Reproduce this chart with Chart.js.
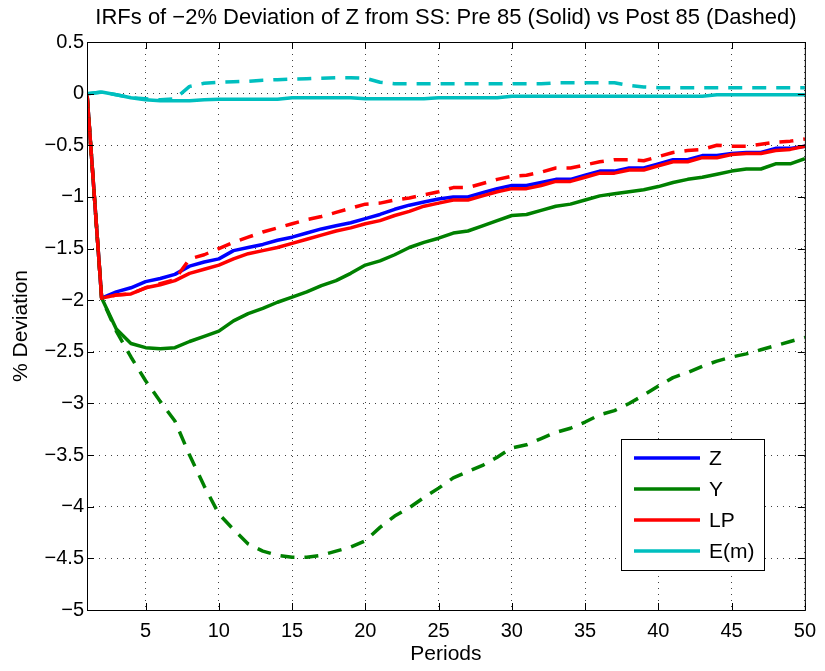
<!DOCTYPE html>
<html>
<head>
<meta charset="utf-8">
<script src="https://cdn.jsdelivr.net/npm/chart.js@4"></script>
<style>
  body { margin: 0; background: #fff; }
  canvas { display: block; }
</style>
</head>
<body>
<canvas id="irfChart" width="825" height="671"></canvas>
<script>
// IRF data (% deviation from steady state)

const periods = [1, 2, 3, 4, 5, 6, 7, 8, 9, 10, 11, 12, 13, 14, 15, 16, 17, 18, 19, 20,
  21, 22, 23, 24, 25, 26, 27, 28, 29, 30, 31, 32, 33, 34, 35, 36, 37, 38, 39, 40,
  41, 42, 43, 44, 45, 46, 47, 48, 49, 50];

const xTicks = [5, 10, 15, 20, 25, 30, 35, 40, 45, 50];
const yTicks = [0.5, 0, -0.5, -1, -1.5, -2, -2.5, -3, -3.5, -4, -4.5, -5];

// pre 85 (solid)
const zPre = [0, -1.98, -1.92, -1.88, -1.82, -1.79, -1.75, -1.67, -1.63, -1.60,
  -1.52, -1.49, -1.46, -1.42, -1.39, -1.35, -1.31, -1.28, -1.25, -1.21,
  -1.17, -1.12, -1.08, -1.05, -1.02, -1.00, -1.00, -0.96, -0.92, -0.89,
  -0.89, -0.86, -0.83, -0.83, -0.79, -0.75, -0.75, -0.72, -0.72, -0.68,
  -0.64, -0.64, -0.60, -0.60, -0.58, -0.57, -0.57, -0.53, -0.53, -0.51];
const yPre = [0, -1.98, -2.28, -2.42, -2.46, -2.47, -2.46, -2.40, -2.35, -2.30,
  -2.20, -2.13, -2.08, -2.02, -1.97, -1.92, -1.86, -1.81, -1.74, -1.66,
  -1.62, -1.56, -1.49, -1.44, -1.40, -1.35, -1.33, -1.28, -1.23, -1.18,
  -1.17, -1.13, -1.09, -1.07, -1.03, -0.99, -0.97, -0.95, -0.93, -0.90,
  -0.86, -0.83, -0.81, -0.78, -0.75, -0.73, -0.73, -0.68, -0.68, -0.63];
const lpPre = [0, -1.98, -1.95, -1.94, -1.88, -1.85, -1.81, -1.74, -1.70, -1.66,
  -1.60, -1.55, -1.52, -1.49, -1.45, -1.41, -1.37, -1.33, -1.30, -1.26,
  -1.23, -1.18, -1.14, -1.09, -1.06, -1.03, -1.03, -0.99, -0.95, -0.92,
  -0.92, -0.89, -0.85, -0.85, -0.81, -0.77, -0.77, -0.74, -0.74, -0.70,
  -0.66, -0.66, -0.62, -0.62, -0.59, -0.58, -0.58, -0.55, -0.54, -0.51];
const emPre = [0, 0.015, -0.01, -0.04, -0.06, -0.07, -0.07, -0.07, -0.06, -0.055,
  -0.055, -0.055, -0.055, -0.055, -0.04, -0.04, -0.04, -0.04, -0.04, -0.05,
  -0.05, -0.05, -0.05, -0.05, -0.04, -0.04, -0.04, -0.04, -0.04, -0.025,
  -0.025, -0.025, -0.025, -0.025, -0.025, -0.025, -0.025, -0.025, -0.025, -0.025,
  -0.025, -0.025, -0.025, -0.01, -0.01, -0.01, -0.01, -0.01, -0.01, -0.01];

// post 85 (dashed)
const yPost = [0, -1.98, -2.30, -2.55, -2.78, -2.98, -3.17, -3.50, -3.80, -4.07,
  -4.22, -4.36, -4.43, -4.47, -4.49, -4.49, -4.47, -4.43, -4.39, -4.33,
  -4.20, -4.09, -4.01, -3.91, -3.82, -3.72, -3.66, -3.60, -3.52, -3.43,
  -3.40, -3.34, -3.28, -3.24, -3.18, -3.11, -3.07, -3.00, -2.92, -2.83,
  -2.75, -2.70, -2.64, -2.59, -2.55, -2.52, -2.48, -2.44, -2.40, -2.36];
const lpPost = [0, -1.98, -1.95, -1.94, -1.88, -1.84, -1.80, -1.60, -1.56, -1.50,
  -1.44, -1.39, -1.34, -1.30, -1.26, -1.22, -1.19, -1.15, -1.11, -1.07,
  -1.06, -1.03, -1.01, -0.98, -0.95, -0.91, -0.91, -0.87, -0.83, -0.80,
  -0.79, -0.76, -0.72, -0.72, -0.69, -0.66, -0.64, -0.64, -0.65, -0.61,
  -0.57, -0.55, -0.54, -0.50, -0.51, -0.51, -0.49, -0.47, -0.46, -0.44];
const emPost = [0, 0.015, -0.01, -0.04, -0.05, -0.06, -0.05, 0.07, 0.10, 0.11,
  0.115, 0.12, 0.13, 0.135, 0.14, 0.145, 0.15, 0.155, 0.155, 0.15,
  0.11, 0.095, 0.095, 0.095, 0.095, 0.095, 0.095, 0.095, 0.095, 0.095,
  0.095, 0.095, 0.105, 0.105, 0.105, 0.105, 0.105, 0.08, 0.065, 0.058,
  0.058, 0.058, 0.058, 0.058, 0.058, 0.058, 0.058, 0.058, 0.058, 0.058];

const titleText = 'IRFs of \u22122% Deviation of Z from SS: Pre 85 (Solid) vs Post 85 (Dashed)';
const FONT = '"Liberation Sans", Arial, Helvetica, sans-serif';

const colors = { z: '#0000ff', y: '#008000', lp: '#ff0000', em: '#00bfbf' };

function series(label, values, color, dashed, order) {
  return {
    label: label,
    data: values.map((v, i) => ({ x: periods[i], y: v })),
    borderColor: color,
    backgroundColor: color,
    borderWidth: 3.5,
    borderDash: dashed ? [14, 10] : [],
    borderCapStyle: 'butt',
    borderJoinStyle: 'round',
    dashed: dashed,
    order: order
  };
}

// lower order = drawn on top
const datasets = [
  series('Z', zPre, colors.z, false, 7),
  series('Y', yPre, colors.y, false, 6),
  series('LP', lpPre, colors.lp, false, 5),
  series('E(m)', emPre, colors.em, false, 4),
  series('Y post', yPost, colors.y, true, 3),
  series('LP post', lpPost, colors.lp, true, 2),
  series('E(m) post', emPost, colors.em, true, 1)
];

// title, frame with inward ticks, and the boxed legend
const matlabLook = {
  id: 'matlabLook',
  afterDraw(chart) {
    const ctx = chart.ctx;
    const a = chart.chartArea;
    const xs = chart.scales.x, ys = chart.scales.y;
    ctx.save();

    ctx.fillStyle = '#000';
    ctx.font = '22px ' + FONT;
    ctx.textAlign = 'center';
    ctx.textBaseline = 'middle';
    ctx.fillText(titleText, (a.left + a.right) / 2, 18);

    ctx.strokeStyle = '#000';
    ctx.lineWidth = 1;
    ctx.setLineDash([]);
    ctx.strokeRect(a.left + 0.5, a.top + 0.5, a.right - a.left, a.bottom - a.top);
    const tl = 7;
    ctx.beginPath();
    xTicks.forEach(v => {
      const px = Math.round(xs.getPixelForValue(v)) + 0.5;
      ctx.moveTo(px, a.bottom); ctx.lineTo(px, a.bottom - tl);
      ctx.moveTo(px, a.top); ctx.lineTo(px, a.top + tl);
    });
    yTicks.forEach(v => {
      const py = Math.round(ys.getPixelForValue(v)) + 0.5;
      ctx.moveTo(a.left, py); ctx.lineTo(a.left + tl, py);
      ctx.moveTo(a.right, py); ctx.lineTo(a.right - tl, py);
    });
    ctx.stroke();

    // legend
    const items = chart.data.datasets.filter(d => !d.dashed);
    const box = { x: 621, y: 439, w: 143, h: 131 };
    ctx.fillStyle = '#fff';
    ctx.fillRect(box.x, box.y, box.w, box.h);
    ctx.strokeRect(box.x + 0.5, box.y + 0.5, box.w, box.h);
    const rowH = 31;
    ctx.font = '21px ' + FONT;
    ctx.textAlign = 'left';
    items.forEach((d, i) => {
      const ry = box.y + 19 + i * rowH;
      ctx.strokeStyle = d.borderColor;
      ctx.lineWidth = 3.5;
      ctx.beginPath();
      ctx.moveTo(box.x + 13, ry);
      ctx.lineTo(box.x + 79, ry);
      ctx.stroke();
      ctx.fillStyle = '#000';
      ctx.fillText(d.label, box.x + 88, ry + 1);
    });
    ctx.restore();
  }
};

const tickFont = { family: FONT, size: 20 };
const gridOpts = { color: 'rgba(0,0,0,0.75)', lineWidth: 1, drawTicks: false };

new Chart(document.getElementById('irfChart').getContext('2d'), {
  type: 'line',
  data: { datasets: datasets },
  options: {
    responsive: false,
    animation: false,
    layout: { padding: { top: 42, right: 18, left: 0, bottom: 0 } },
    elements: { point: { radius: 0 }, line: { tension: 0 } },
    plugins: { legend: { display: false }, tooltip: { enabled: false } },
    scales: {
      x: {
        type: 'linear',
        min: 1,
        max: 50,
        afterBuildTicks: s => { s.ticks = xTicks.map(v => ({ value: v })); },
        afterFit: s => { s.height = 61; },
        grid: gridOpts,
        border: { display: false, dash: [1, 5] },
        ticks: { font: tickFont, color: '#000', padding: 9, maxRotation: 0, autoSkip: false },
        title: { display: true, text: 'Periods', color: '#000', font: { family: FONT, size: 21 }, padding: { top: 2 } }
      },
      y: {
        type: 'linear',
        min: -5,
        max: 0.5,
        afterBuildTicks: s => { s.ticks = yTicks.map(v => ({ value: v })); },
        afterFit: s => { s.width = 87; },
        grid: gridOpts,
        border: { display: false, dash: [1, 5] },
        ticks: {
          font: tickFont, color: '#000', padding: 3, autoSkip: false,
          callback: v => String(v).replace('-', '\u2212')
        },
        title: { display: true, text: '% Deviation', color: '#000', font: { family: FONT, size: 21 }, padding: { top: 9 } }
      }
    }
  },
  plugins: [matlabLook]
});
</script>
</body>
</html>
